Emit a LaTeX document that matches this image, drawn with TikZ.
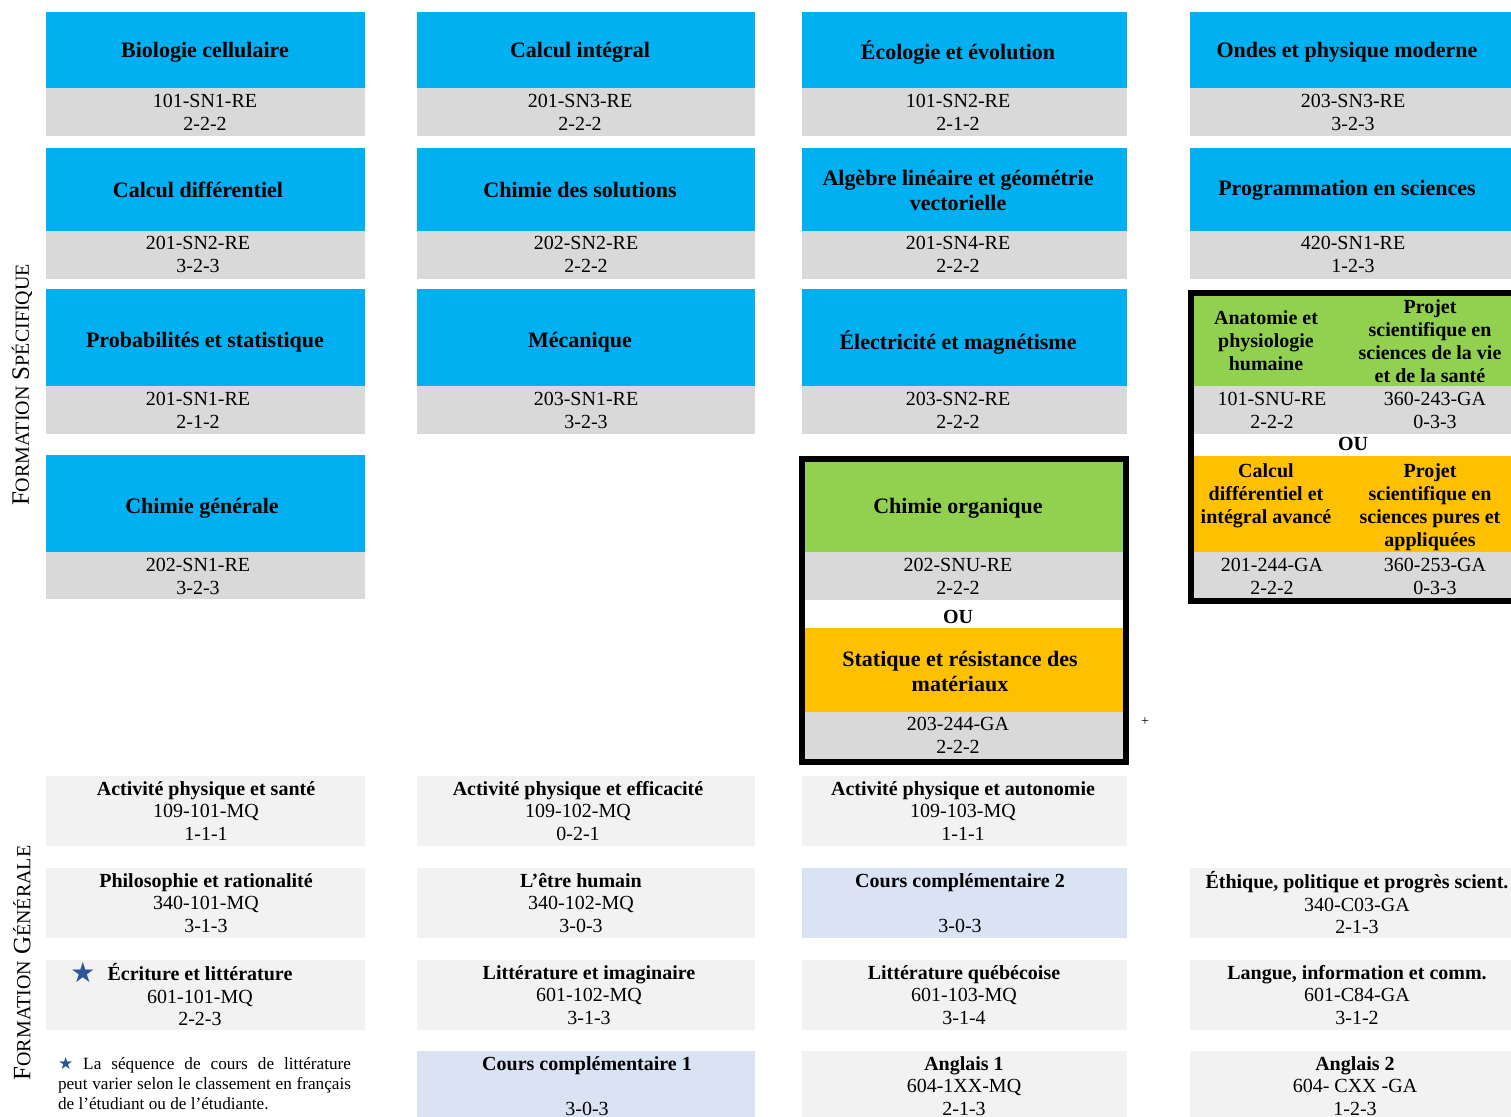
\documentclass[tikz,border=0pt]{standalone}
\usepackage{fontspec}
\setmainfont{Liberation Serif}
\newfontfamily\symbfont{DejaVu Sans}

\definecolor{bleu}{HTML}{00B0F0}
\definecolor{gris}{HTML}{D9D9D9}
\definecolor{vert}{HTML}{92D050}
\definecolor{jaune}{HTML}{FFC000}
\definecolor{pale}{HTML}{F2F2F2}
\definecolor{bleupale}{HTML}{DAE3F3}
\definecolor{etoile}{HTML}{2F5597}

\begin{document}
\begin{tikzpicture}[x=0.5pt,y=-0.5pt,
	titre/.style={font=\fontsize{11}{12.5}\selectfont\bfseries, align=center, inner sep=0pt},
	code/.style={font=\fontsize{10}{11.5}\selectfont, align=center, inner sep=0pt},
	boite/.style={font=\fontsize{10}{11.5}\selectfont\bfseries, align=center, inner sep=0pt},
	gen/.style={font=\fontsize{10}{11.25}\selectfont, align=center, inner sep=0pt},
	cadre/.style={line width=3pt}]

	\useasboundingbox (0,0) rectangle (1511,1117);

	% formation specifique, colonne 1
	\fill[bleu] (46,12) rectangle (365,88);
	\fill[gris] (46,88) rectangle (365,136);
	\node[titre] (bio) at (205,52) {Biologie cellulaire};
	\node[code] (biocode) at (205,112) {101-SN1-RE\\2-2-2};

	\fill[bleu] (46,148) rectangle (365,231);
	\fill[gris] (46,231) rectangle (365,279);
	\node[titre] (calcdiff) at (198,190) {Calcul différentiel};
	\node[code] (calcdiffcode) at (198,254) {201-SN2-RE\\3-2-3};

	\fill[bleu] (46,289) rectangle (365,386);
	\fill[gris] (46,386) rectangle (365,434);
	\node[titre] (proba) at (205,342) {Probabilités et statistique};
	\node[code] (probacode) at (198,410) {201-SN1-RE\\2-1-2};

	\fill[bleu] (46,455) rectangle (365,552);
	\fill[gris] (46,552) rectangle (365,599);
	\node[titre] (chimgen) at (202,508) {Chimie générale};
	\node[code] (chimgencode) at (198,576) {202-SN1-RE\\3-2-3};

	% colonne 2
	\fill[bleu] (417,12) rectangle (755,88);
	\fill[gris] (417,88) rectangle (755,136);
	\node[titre] (calcint) at (580,52) {Calcul intégral};
	\node[code] (calcintcode) at (580,112) {201-SN3-RE\\2-2-2};

	\fill[bleu] (417,148) rectangle (755,231);
	\fill[gris] (417,231) rectangle (755,279);
	\node[titre] (chimsol) at (580,190) {Chimie des solutions};
	\node[code] (chimsolcode) at (586,254) {202-SN2-RE\\2-2-2};

	\fill[bleu] (417,289) rectangle (755,386);
	\fill[gris] (417,386) rectangle (755,434);
	\node[titre] (meca) at (580,342) {Mécanique};
	\node[code] (mecacode) at (586,410) {203-SN1-RE\\3-2-3};

	% colonne 3
	\fill[bleu] (802,12) rectangle (1127,88);
	\fill[gris] (802,88) rectangle (1127,136);
	\node[titre] (ecolo) at (958,52) {Écologie et évolution};
	\node[code] (ecolocode) at (958,112) {101-SN2-RE\\2-1-2};

	\fill[bleu] (802,148) rectangle (1127,231);
	\fill[gris] (802,231) rectangle (1127,279);
	\node[titre] (algebre) at (958,190) {Algèbre linéaire et géométrie\\vectorielle};
	\node[code] (algebrecode) at (958,254) {201-SN4-RE\\2-2-2};

	\fill[bleu] (802,289) rectangle (1127,386);
	\fill[gris] (802,386) rectangle (1127,434);
	\node[titre] (elec) at (958,342) {Électricité et magnétisme};
	\node[code] (eleccode) at (958,410) {203-SN2-RE\\2-2-2};

	% Chimie organique OU Statique
	\fill[vert] (802,459) rectangle (1126,552);
	\fill[gris] (802,552) rectangle (1126,600);
	\fill[jaune] (802,628) rectangle (1126,712);
	\fill[gris] (802,712) rectangle (1126,762);
	\draw[cadre] (802,459) rectangle (1126,762);
	\node[titre] (chimorg) at (958,508) {Chimie organique};
	\node[code] (chimorgcode) at (958,576) {202-SNU-RE\\2-2-2};
	\node[boite] (ou1) at (958,617) {OU};
	\node[titre] (statique) at (960,671) {Statique et résistance des\\matériaux};
	\node[code] (statiquecode) at (958,735) {203-244-GA\\2-2-2};
	\node[font=\fontsize{7}{7}\selectfont, inner sep=0pt] (plus) at (1145,722) {+};

	% colonne 4
	\fill[bleu] (1190,12) rectangle (1511,88);
	\fill[gris] (1190,88) rectangle (1511,136);
	\node[titre] (ondes) at (1347,52) {Ondes et physique moderne};
	\node[code] (ondescode) at (1353,112) {203-SN3-RE\\3-2-3};

	\fill[bleu] (1190,148) rectangle (1511,231);
	\fill[gris] (1190,231) rectangle (1511,279);
	\node[titre] (prog) at (1347,190) {Programmation en sciences};
	\node[code] (progcode) at (1353,254) {420-SN1-RE\\1-2-3};

	% Anatomie + Projet OU Calcul avance + Projet
	\fill[vert] (1191,293) rectangle (1511,386);
	\fill[gris] (1191,386) rectangle (1511,434);
	\fill[jaune] (1191,456) rectangle (1511,552);
	\fill[gris] (1191,552) rectangle (1511,601);
	\draw[cadre] (1191,293) rectangle (1530,601);
	\node[boite] (anato) at (1266,341) {Anatomie et\\physiologie\\humaine};
	\node[boite] (projvie) at (1430,341) {Projet\\scientifique en\\sciences de la vie\\et de la santé};
	\node[code] (anatocode) at (1272,410) {101-SNU-RE\\2-2-2};
	\node[code] (projviecode) at (1435,410) {360-243-GA\\0-3-3};
	\node[boite] (ou2) at (1353,444) {OU};
	\node[boite] (calcav) at (1266,496) {Calcul\\différentiel et\\intégral avancé};
	\node[boite] (projpur) at (1430,507) {Projet\\scientifique en\\sciences pures et\\appliquées};
	\node[code] (calcavcode) at (1272,576) {201-244-GA\\2-2-2};
	\node[code] (projpurcode) at (1435,576) {360-253-GA\\0-3-3};

	% formation generale
	\fill[pale] (46,776) rectangle (365,846);
	\node[gen] (sante) at (206,811) {\textbf{Activité physique et santé}\\109-101-MQ\\1-1-1};
	\fill[pale] (46,868) rectangle (365,938);
	\node[gen] (philo) at (206,903) {\textbf{Philosophie et rationalité}\\340-101-MQ\\3-1-3};
	\fill[pale] (46,960) rectangle (365,1030);
	\node[gen] (ecriture) at (200,995) {\textbf{Écriture et littérature}\\601-101-MQ\\2-2-3};
	\node[font=\symbfont\fontsize{14}{14}\selectfont, text=etoile, inner sep=0pt] (etoile1) at (83,972) {★};
	\node[font=\fontsize{8.6}{10}\selectfont, text width=146.5pt, align=justify, inner sep=0pt] (note) at (204.5,1083)
		{{\symbfont\fontsize{8.5}{10}\selectfont\color{etoile}★} La séquence de cours de littérature\linebreak peut varier selon le classement en français\linebreak de l’étudiant ou de l’étudiante.};

	\fill[pale] (417,776) rectangle (755,846);
	\node[gen] (efficacite) at (578,811) {\textbf{Activité physique et efficacité}\\109-102-MQ\\0-2-1};
	\fill[pale] (417,868) rectangle (755,938);
	\node[gen] (humain) at (581,903) {\textbf{L’être humain}\\340-102-MQ\\3-0-3};
	\fill[pale] (417,960) rectangle (755,1030);
	\node[gen] (imaginaire) at (589,995) {\textbf{Littérature et imaginaire}\\601-102-MQ\\3-1-3};
	\fill[bleupale] (417,1051) rectangle (755,1117);
	\node[gen] (compl1) at (587,1086) {\textbf{Cours complémentaire 1}\\[11.25pt]3-0-3};

	\fill[pale] (802,776) rectangle (1127,846);
	\node[gen] (autonomie) at (963,811) {\textbf{Activité physique et autonomie}\\109-103-MQ\\1-1-1};
	\fill[bleupale] (802,868) rectangle (1127,938);
	\node[gen] (compl2) at (960,903) {\textbf{Cours complémentaire 2}\\[11.25pt]3-0-3};
	\fill[pale] (802,960) rectangle (1127,1030);
	\node[gen] (quebec) at (964,995) {\textbf{Littérature québécoise}\\601-103-MQ\\3-1-4};
	\fill[pale] (802,1051) rectangle (1127,1117);
	\node[gen] (anglais1) at (964,1086) {\textbf{Anglais 1}\\604-1XX-MQ\\2-1-3};

	\fill[pale] (1190,868) rectangle (1511,938);
	\node[gen] (ethique) at (1357,903) {\textbf{Éthique, politique et progrès scient.}\\340-C03-GA\\2-1-3};
	\fill[pale] (1190,960) rectangle (1511,1030);
	\node[gen] (langue) at (1357,995) {\textbf{Langue, information et comm.}\\601-C84-GA\\3-1-2};
	\fill[pale] (1190,1051) rectangle (1511,1117);
	\node[gen] (anglais2) at (1355,1086) {\textbf{Anglais 2}\\604- CXX -GA\\1-2-3};

	% etiquettes
	\node[rotate=90, font=\fontsize{12.5}{13}\selectfont, inner sep=0pt] (formspec) at (22,385)
		{F{\fontsize{10}{13}\selectfont ORMATION} S{\fontsize{10}{13}\selectfont PÉCIFIQUE}};
	\node[rotate=90, font=\fontsize{12.5}{13}\selectfont, inner sep=0pt] (formgen) at (22,963)
		{F{\fontsize{10}{13}\selectfont ORMATION} G{\fontsize{10}{13}\selectfont ÉNÉRALE}};

\end{tikzpicture}
\end{document}
